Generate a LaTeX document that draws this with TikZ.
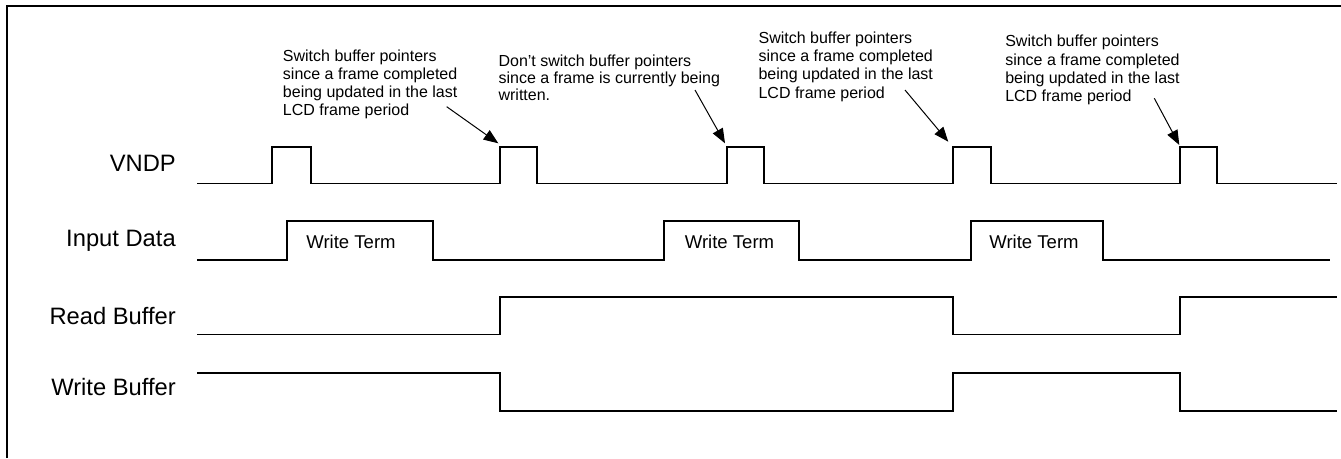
\documentclass[tikz,border=0pt]{standalone}
\usepackage{fontspec}
\setmainfont{Liberation Sans}
\usetikzlibrary{arrows.meta}
\begin{document}
\begin{tikzpicture}[x=0.75pt,y=-0.75pt,
  sig/.style={line width=1.2pt, line join=miter},
  frameline/.style={line width=0.8pt},
  lbl/.style={anchor=base east, inner sep=0pt, font=\fontsize{17.8pt}{20pt}\selectfont},
  termlbl/.style={anchor=base, inner sep=0pt, font=\fontsize{13.9pt}{16pt}\selectfont},
  note/.style={anchor=north west, inner sep=0pt, align=left, font=\fontsize{12pt}{13.7pt}\selectfont},
  pointer/.style={line width=0.75pt, -{Triangle[length=11pt,width=8.5pt]}}]
\useasboundingbox (0,0) rectangle (1341,458);

% frame
\draw[frameline] (7,458) -- (7,6) -- (1341,6);

% signal labels
\node[lbl] (vndp) at (176,171.7) {VNDP};
\node[lbl] (indata) at (176,246.5) {Input Data};
\node[lbl] (rdbuf) at (176,324.3) {Read Buffer};
\node[lbl] (wrbuf) at (176,395) {Write Buffer};

% VNDP
\draw[sig] (197,183.3) -- (271.7,183.3) -- (271.7,146.7) -- (311,146.7) -- (311,183.3)
  -- (500,183.3) -- (500,146.7) -- (536.7,146.7) -- (536.7,183.3)
  -- (726.7,183.3) -- (726.7,146.7) -- (764,146.7) -- (764,183.3)
  -- (953,183.3) -- (953,146.7) -- (991,146.7) -- (991,183.3)
  -- (1179.7,183.3) -- (1179.7,146.7) -- (1217,146.7) -- (1217,183.3) -- (1337,183.3);

% Input Data
\draw[sig] (197,260) -- (286.7,260) -- (286.7,220.7) -- (432.7,220.7) -- (432.7,260)
  -- (663.7,260) -- (663.7,220.7) -- (798.7,220.7) -- (798.7,260)
  -- (970.7,260) -- (970.7,220.7) -- (1103,220.7) -- (1103,260) -- (1330,260);
\node[termlbl] (wt1) at (351,248.3) {Write Term};
\node[termlbl] (wt2) at (729.5,248.3) {Write Term};
\node[termlbl] (wt3) at (1034,248.3) {Write Term};

% Read Buffer
\draw[sig] (197,334.3) -- (500,334.3) -- (500,296.7) -- (953,296.7) -- (953,334.3)
  -- (1180,334.3) -- (1180,296.7) -- (1337,296.7);

% Write Buffer
\draw[sig] (197,372.7) -- (500,372.7) -- (500,410.7) -- (953,410.7) -- (953,372.7)
  -- (1180,372.7) -- (1180,410.7) -- (1337,410.7);

% annotations
\node[note] (ann1) at (282.7,49.2) {Switch buffer pointers\\since a frame completed\\being updated in the last\\LCD frame period};
\node[note, font=\fontsize{12pt}{12.7pt}\selectfont] (ann2) at (498.3,55) {Don’t switch buffer pointers\\since a frame is currently being\\written.};
\node[note] (ann3) at (758.3,31.5) {Switch buffer pointers\\since a frame completed\\being updated in the last\\LCD frame period};
\node[note] (ann4) at (1005,34.9) {Switch buffer pointers\\since a frame completed\\being updated in the last\\LCD frame period};

\coordinate (t1) at (446.7,106.7); \coordinate (h1) at (498.3,143.3);
\coordinate (t2) at (695,90);      \coordinate (h2) at (725,143.3);
\coordinate (t3) at (905,90);      \coordinate (h3) at (948.3,141.7);
\coordinate (t4) at (1154.3,98.3); \coordinate (h4) at (1179.3,145);
\draw[pointer] (t1) -- (h1);
\draw[pointer] (t2) -- (h2);
\draw[pointer] (t3) -- (h3);
\draw[pointer] (t4) -- (h4);
\end{tikzpicture}
\end{document}
